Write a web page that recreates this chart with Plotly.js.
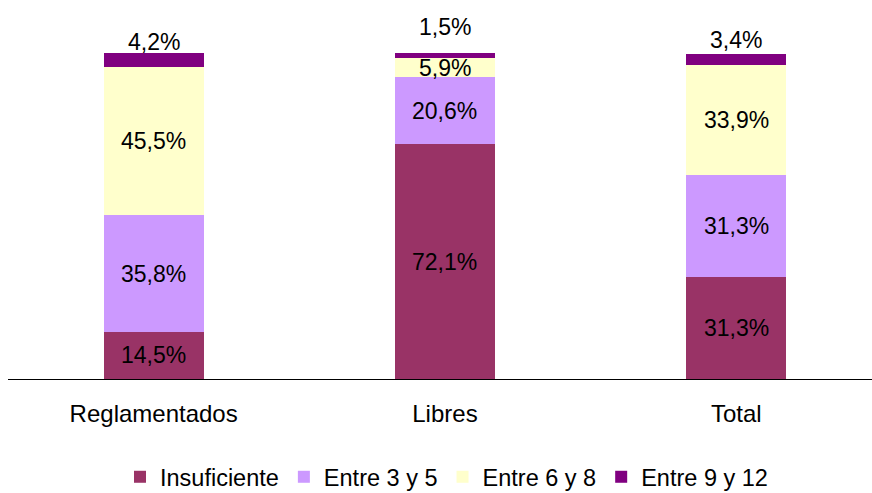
<!DOCTYPE html>
<html>
<head>
<meta charset="utf-8">
<script src="https://cdn.plot.ly/plotly-3.0.1.min.js"></script>
<style>html,body{margin:0;padding:0;background:#fff;}#chart{width:872px;height:493px;}</style>
</head>
<body>
<div id="chart"></div>
<script>
// ---- data ----
const categories = ["Reglamentados", "Libres", "Total"];
const seriesNames = ["Insuficiente", "Entre 3 y 5", "Entre 6 y 8", "Entre 9 y 12"];
const insuficiente = [14.5, 72.1, 31.3];
const entre3y5 = [35.8, 20.6, 31.3];
const entre6y8 = [45.5, 5.9, 33.9];
const entre9y12 = [4.2, 1.5, 3.4];

// ---- styles ----
const colors = ["#993366", "#CC99FF", "#FFFFCC", "#800080"];
const topLabelShift = [11, 26, 14]; // px above top for the last segment labels
const FONT = "Liberation Sans, Arial, sans-serif";

const series = [insuficiente, entre3y5, entre6y8, entre9y12];
const fmt = v => v.toFixed(1).replace('.', ',') + '%';

const traces = series.map((vals, i) => ({
  type: 'bar',
  name: seriesNames[i],
  x: categories,
  y: vals,
  width: 0.343,
  marker: {color: colors[i], line: {width: 0}},
  hoverinfo: 'skip'
}));

const totals = categories.map((_, c) => series.reduce((s, vals) => s + vals[c], 0));
const yMax = Math.max(100, ...totals) + 0.05;

const annotations = [];
categories.forEach((cat, c) => {
  let base = 0;
  series.forEach((vals, i) => {
    const v = vals[c];
    const last = i === series.length - 1;
    annotations.push({
      x: cat, y: last ? base + v : base + v / 2,
      xref: 'x', yref: 'y',
      text: fmt(v), showarrow: false,
      xanchor: 'center', yanchor: 'middle',
      yshift: last ? topLabelShift[c] : 0,
      font: {family: FONT, size: 23, color: '#000'}
    });
    base += v;
  });
});

const layout = {
  width: 872, height: 493,
  margin: {l: 8, r: 0, t: 53, b: 114, autoexpand: false},
  paper_bgcolor: '#fff', plot_bgcolor: '#fff',
  barmode: 'stack',
  showlegend: true,
  legend: {
    orientation: 'h', x: 0.5075, xanchor: 'center',
    y: -0.3006, yanchor: 'middle',
    font: {family: FONT, size: 23.5, color: '#000'},
    itemclick: false, itemdoubleclick: false,
    traceorder: 'normal'
  },
  xaxis: {
    type: 'category', range: [-0.5, 2.466],
    showline: true, linecolor: '#000', linewidth: 1,
    showgrid: false, zeroline: false, ticks: '',
    tickfont: {family: FONT, size: 24, color: '#000'},
    ticklabelstandoff: 13,
    automargin: false,
    fixedrange: true
  },
  yaxis: {
    range: [0, yMax], showgrid: false, zeroline: false, showline: false,
    showticklabels: false, ticks: '', fixedrange: true, automargin: false
  },
  annotations: annotations,
  font: {family: FONT, color: '#000'}
};

Plotly.newPlot('chart', traces, layout, {displayModeBar: false, staticPlot: true});
</script>
</body>
</html>
